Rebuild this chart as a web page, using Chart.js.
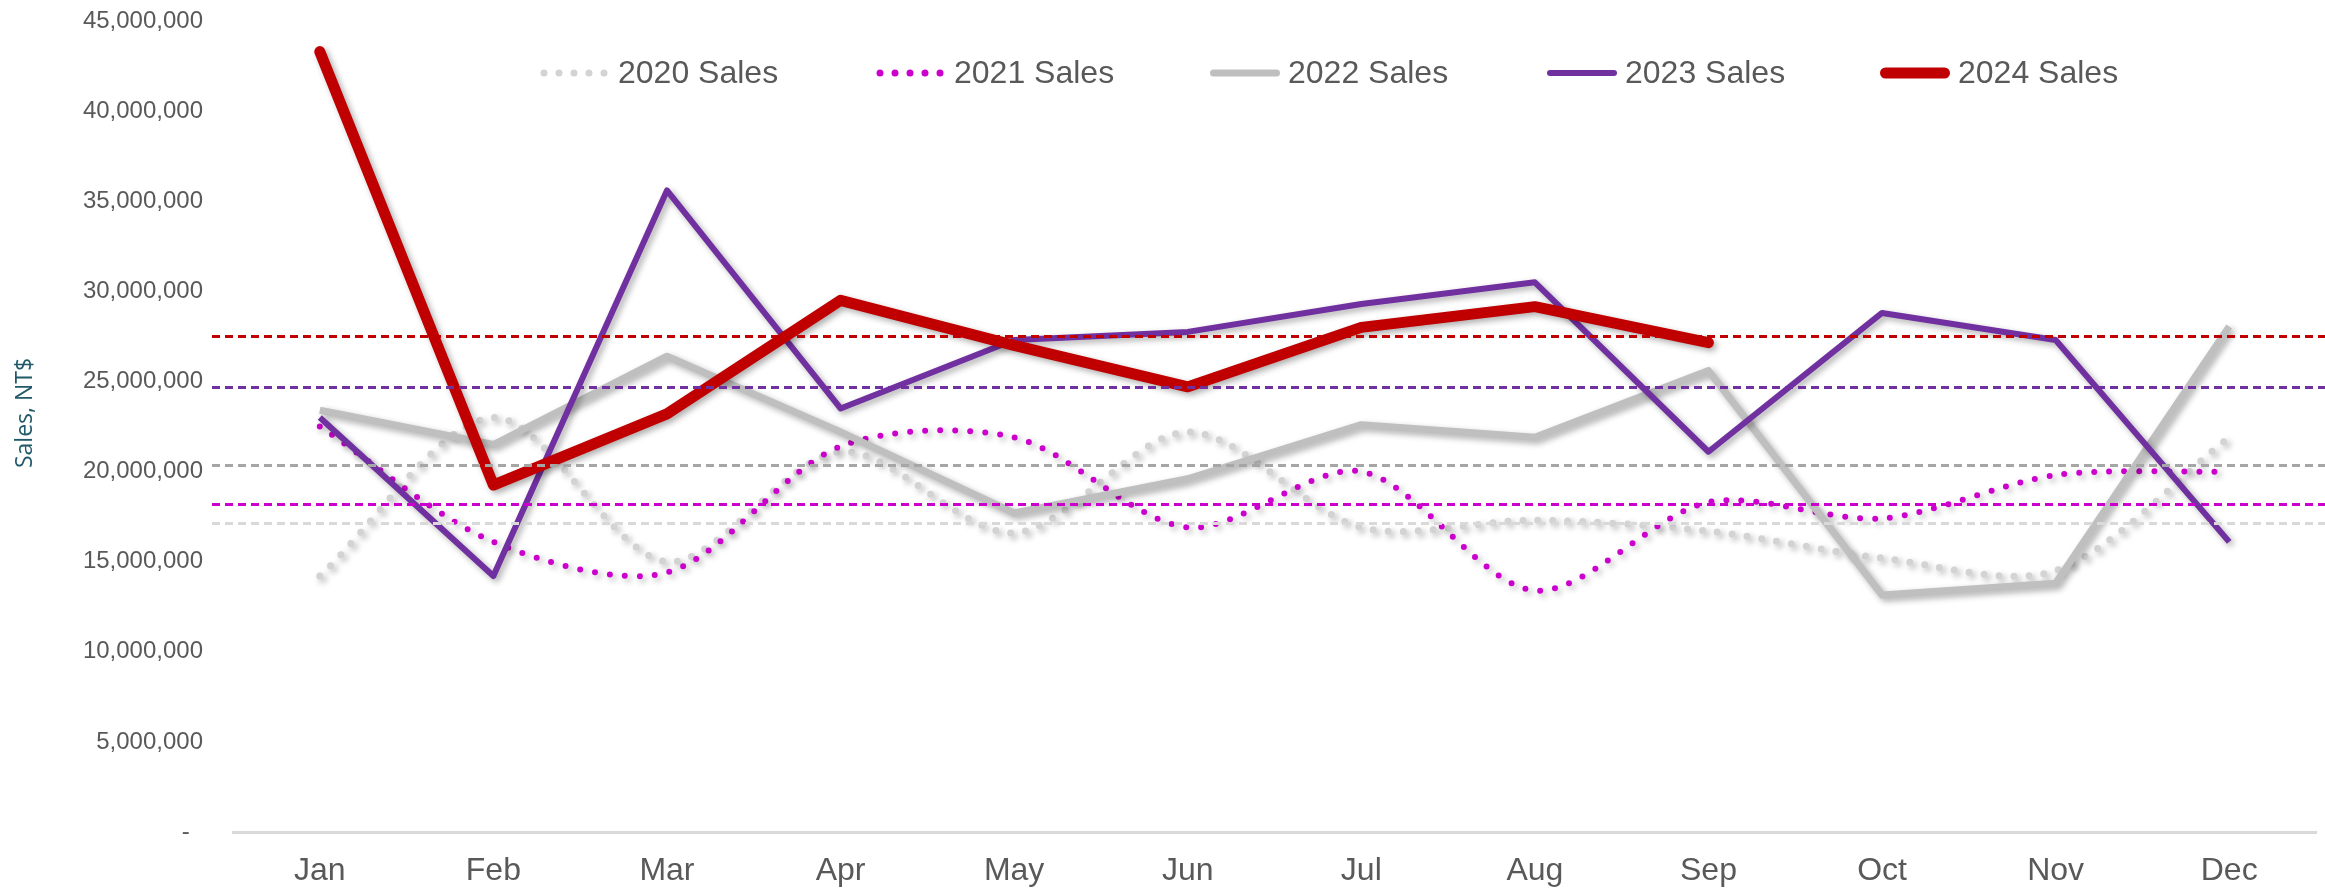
<!DOCTYPE html>
<html>
<head>
<meta charset="utf-8">
<script src="https://cdn.jsdelivr.net/npm/chart.js@4.4.1/dist/chart.umd.min.js"></script>
<style>
  html, body { margin: 0; background: #fff; }
  #wrap { width: 2325px; height: 890px; }
</style>
</head>
<body>
<div id="wrap"><canvas id="grafico" width="2325" height="890"></canvas></div>
<script>
// ===== Datos =====
const meses = ["Jan", "Feb", "Mar", "Apr", "May", "Jun", "Jul", "Aug", "Sep", "Oct", "Nov", "Dec"];
const ventas2020 = [14200000, 23000000, 15000000, 21100000, 16600000, 22200000, 16900000, 17300000, 16700000, 15200000, 14500000, 21900000];
const ventas2021 = [22500000, 16100000, 14400000, 21400000, 21900000, 16900000, 20000000, 13400000, 18300000, 17400000, 19800000, 20000000];
const ventas2022 = [23400000, 21500000, 26400000, 22200000, 17700000, 19600000, 22600000, 21900000, 25600000, 13150000, 13800000, 28050000];
const ventas2023 = [23000000, 14200000, 35600000, 23500000, 27300000, 27750000, 29300000, 30500000, 21100000, 28800000, 27300000, 16100000];
const ventas2024 = [43300000, 19250000, 23200000, 29500000, 27000000, 24700000, 28000000, 29150000, 27150000];
// promedios (líneas discontinuas)
const medias = [17150000, 18200000, 20350000, 24700000, 27500000];
const ticksY = [0, 5000000, 10000000, 15000000, 20000000, 25000000, 30000000, 35000000, 40000000, 45000000];
const tituloY = 'Sales, NT$';

const fuente = "'Liberation Sans', Arial, sans-serif";
const coloresMedia = ['#D9D9D9', '#CC00CC', '#A6A6A6', '#7030A0', '#C00000'];

// ===== Plugins =====
const sombra = {
  id: 'sombra',
  beforeDatasetDraw(chart) {
    const ctx = chart.ctx;
    ctx.save();
    ctx.shadowColor = 'rgba(0,0,0,0.32)';
    ctx.shadowBlur = 6;
    ctx.shadowOffsetX = 3;
    ctx.shadowOffsetY = 3;
  },
  afterDatasetDraw(chart) { chart.ctx.restore(); }
};

const lineasMedia = {
  id: 'lineasMedia',
  afterDatasetsDraw(chart) {
    const { ctx, chartArea, scales: { y } } = chart;
    medias.forEach((m, i) => {
      const py = Math.round(y.getPixelForValue(m)) + 0.5;
      ctx.save();
      ctx.strokeStyle = coloresMedia[i];
      ctx.lineWidth = 3;
      ctx.setLineDash([8, 5]);
      ctx.beginPath();
      ctx.moveTo(chartArea.left - 21, py);
      ctx.lineTo(chart.width, py);
      ctx.stroke();
      ctx.restore();
    });
  }
};

// leyenda propia, dentro del área del gráfico + título del eje Y
const leyenda = {
  id: 'leyenda',
  afterDraw(chart) {
    const ctx = chart.ctx;
    const xs = [540, 876, 1210, 1547, 1880];
    const yc = 73;
    chart.data.datasets.forEach((ds, i) => {
      const x0 = xs[i];
      ctx.save();
      ctx.strokeStyle = ds.borderColor;
      ctx.lineWidth = ds.borderDash ? 7 : ds.borderWidth;
      ctx.lineCap = 'round';
      ctx.setLineDash(ds.borderDash || []);
      ctx.beginPath();
      if (ds.borderDash) { ctx.moveTo(x0 + 4, yc); ctx.lineTo(x0 + 65, yc); }
      else { ctx.moveTo(x0 + ds.borderWidth / 2, yc); ctx.lineTo(x0 + 70 - ds.borderWidth / 2, yc); }
      ctx.stroke();
      ctx.restore();
      ctx.save();
      ctx.fillStyle = '#595959';
      ctx.font = `32px ${fuente}`;
      ctx.textBaseline = 'middle';
      ctx.fillText(ds.label, x0 + 78, yc + 1);
      ctx.restore();
    });

    ctx.save();
    ctx.translate(25, 413);
    ctx.rotate(-Math.PI / 2);
    ctx.fillStyle = '#215968';
    ctx.font = "23px 'Open Sans', sans-serif";
    ctx.textAlign = 'center';
    ctx.textBaseline = 'middle';
    ctx.fillText(tituloY, 0, 0);
    ctx.restore();
  }
};

// ===== Gráfico =====
const punteado = (color, ancho) => ({
  borderColor: color, backgroundColor: color, borderWidth: ancho,
  borderDash: [0, 15], borderCapStyle: 'round', tension: 0.3
});

new Chart(document.getElementById('grafico'), {
  type: 'line',
  data: {
    labels: meses,
    datasets: [
      { label: '2020 Sales', data: ventas2020, ...punteado('#D3D3D3', 7), order: 5 },
      { label: '2021 Sales', data: ventas2021, ...punteado('#CC00CC', 6), order: 4 },
      { label: '2022 Sales', data: ventas2022, borderColor: '#BFBFBF', backgroundColor: '#BFBFBF', borderWidth: 7, tension: 0, order: 3 },
      { label: '2023 Sales', data: ventas2023, borderColor: '#7030A0', backgroundColor: '#7030A0', borderWidth: 6, tension: 0, order: 2 },
      { label: '2024 Sales', data: ventas2024, borderColor: '#C00000', backgroundColor: '#C00000', borderWidth: 11, tension: 0, order: 1, borderCapStyle: 'round' }
    ]
  },
  options: {
    responsive: false,
    animation: false,
    devicePixelRatio: 1,
    layout: { padding: { top: 0, right: 9, left: 0, bottom: 0 } },
    elements: { point: { radius: 0, hoverRadius: 0 }, line: { borderJoinStyle: 'round' } },
    plugins: { legend: { display: false }, tooltip: { enabled: false } },
    scales: {
      x: {
        offset: true,
        grid: { display: false, drawTicks: false, offset: true },
        border: { display: true, color: '#D9D9D9', width: 3 },
        ticks: { color: '#595959', font: { family: fuente, size: 32 }, padding: 20, autoSkip: false, maxRotation: 0 },
        afterFit: s => { s.height = 58; }
      },
      y: {
        min: 0, max: 45000000,
        grid: { display: false, drawTicks: false },
        border: { display: false },
        afterBuildTicks: s => { s.ticks = ticksY.map(v => ({ value: v })); },
        ticks: {
          color: '#595959', font: { family: fuente, size: 24 }, padding: 30,
          callback: v => v === 0 ? '-  ' : Number(v).toLocaleString('en-US')
        },
        afterFit: s => { s.width = 233; s.paddingTop = 21; s.paddingBottom = 0; }
      }
    }
  },
  plugins: [sombra, lineasMedia, leyenda]
});
</script>
</body>
</html>
